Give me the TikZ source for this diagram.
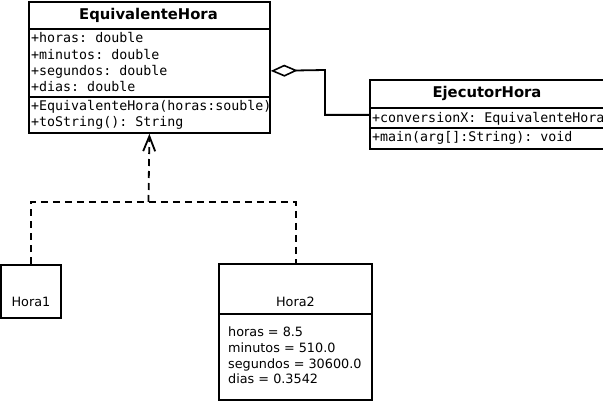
\documentclass[tikz,border=0pt]{standalone}
\usepackage{fontspec}
\setmainfont{DejaVu Sans}
\setmonofont{DejaVu Sans Mono}
\usetikzlibrary{arrows.meta}
\begin{document}
\begin{tikzpicture}[x=1pt,y=-1pt,
  box/.style={draw,line width=1.8pt,rectangle,inner sep=0,anchor=north west},
  sep/.style={line width=1.8pt},
  ttl/.style={inner sep=0,anchor=base,font=\fontsize{14.8}{17}\selectfont\bfseries},
  mono/.style={inner sep=0,anchor=base west,font=\fontsize{13.3}{16}\ttfamily},
  plain/.style={inner sep=0,anchor=base west,font=\fontsize{12.8}{15}\selectfont},
  dashline/.style={line width=1.8pt,dash pattern=on 7pt off 5pt},
  conn/.style={line width=1.8pt}]
\useasboundingbox (0,0) rectangle (603,401);
% EquivalenteHora
\node[box,minimum width=241pt,minimum height=131pt] (eq) at (28,1) {};
\draw[sep] (28,29) -- (269,29);
\draw[sep] (28,97) -- (269,97);
\node[ttl] (eqt) at (148.5,20) {EquivalenteHora};
\node[mono] (eqa1) at (31,43) {+horas: double};
\node[mono] (eqa2) at (31,59.5) {+minutos: double};
\node[mono] (eqa3) at (31,75.5) {+segundos: double};
\node[mono] (eqa4) at (31,91.5) {+dias: double};
\node[mono] (eqm1) at (31,111) {+EquivalenteHora(horas:souble)};
\node[mono] (eqm2) at (31,127) {+toString(): String};
% EjecutorHora
\node[box,minimum width=234pt,minimum height=69pt] (ej) at (369,79.5) {};
\draw[sep] (369,108) -- (603,108);
\draw[sep] (369,128) -- (603,128);
\node[ttl] (ejt) at (487,98) {EjecutorHora};
\node[mono] (eja1) at (372,123) {+conversionX: EquivalenteHora};
\node[mono] (ejm1) at (372,142) {+main(arg[]:String): void};
% Hora1
\node[box,minimum width=60pt,minimum height=53pt] (h1) at (0,264) {};
\node[plain,anchor=base] (h1t) at (h1.center |- 0,306) {Hora1};
% Hora2
\node[box,minimum width=153pt,minimum height=136pt] (h2) at (218,263) {};
\draw[sep] (218,314) -- (371,314);
\node[plain,anchor=base] (h2t) at (h2.center |- 0,306) {Hora2};
\node[plain] (h2a1) at (228,336) {horas = 8.5};
\node[plain] (h2a2) at (228,352) {minutos = 510.0};
\node[plain] (h2a3) at (228,368) {segundos = 30600.0};
\node[plain] (h2a4) at (228,383.5) {dias = 0.3542};
% realization
\coordinate (j) at (148.5,202);
\draw[dashline] (h1.north) |- (j) -| ([xshift=0.5pt]h2.north);
\draw[dashline,-{Straight Barb[length=15pt,width=12pt,line width=1.8pt]}] (j) -- (eq.south);
% aggregation
\draw[conn,-{Diamond[open,length=27pt,width=12pt,line width=1.6pt]}] (ej.west) -| (325,70) -- ([yshift=-3.5pt]eq.east);
\end{tikzpicture}
\end{document}
